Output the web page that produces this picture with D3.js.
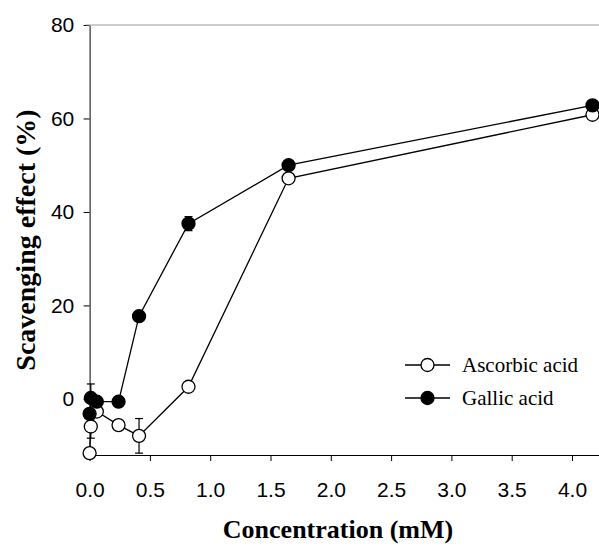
<!DOCTYPE html>
<html>
<head>
<meta charset="utf-8">
<script src="https://cdn.jsdelivr.net/npm/d3@7"></script>
<style>
  body { margin: 0; background: #fff; }
  svg { display: block; }
</style>
</head>
<body>
<div class="chart"></div>
<script>
// concentration (mM)
const conc = [0.0, 0.01, 0.06, 0.24, 0.41, 0.82, 1.65, 4.17];
const ascorbic = [-11.6, -5.9, -2.7, -5.6, -7.9, 2.6, 47.2, 60.8];
const ascorbicErr = [0, 2.5, 0, 1, 3.7, 1, 1, 1];
const gallic = [-3.2, 0.2, -0.6, -0.6, 17.7, 37.5, 50.0, 62.8];
const gallicErr = [0, 3, 0, 0.5, 1, 1.5, 1, 0.8];
const xTicks = [0, 0.5, 1, 1.5, 2, 2.5, 3, 3.5, 4];
const yTicks = [0, 20, 40, 60, 80];
const seriesNames = ['Ascorbic acid', 'Gallic acid'];

const W = 599, H = 546;
const svg = d3.select('.chart').append('svg')
    .attr('width', W)
    .attr('height', H);

const x = d3.scaleLinear().domain([0, 4]).range([89.6, 572]);
const y = d3.scaleLinear().domain([-12, 80]).range([455, 25]);

// axes
svg.append('g')
    .attr('transform', `translate(0,${y(-12)})`)
    .call(d3.axisBottom(x).tickValues(xTicks).tickFormat(d3.format('.1f')).tickSize(6).tickSizeOuter(0))
    .call(g => g.select('.domain').attr('d', `M${x(0)},0.5H${W}`))
    .call(g => g.selectAll('text').attr('dy', '1.55em'));

svg.append('g')
    .attr('transform', `translate(${x(0)},0)`)
    .call(d3.axisLeft(y).tickValues(yTicks).tickSize(6).tickSizeOuter(0))
    .call(g => g.selectAll('text').attr('dx', '-0.3em'));

// top frame line
svg.append('line')
    .attr('x1', x(0) - 4).attr('x2', W)
    .attr('y1', y(80)).attr('y2', y(80))
    .attr('stroke', '#999').attr('stroke-width', 1);

svg.selectAll('.tick text')
    .attr('font-family', 'Liberation Sans, Arial, sans-serif')
    .attr('font-size', 21)
    .attr('fill', '#000');
svg.selectAll('.tick line, .domain').attr('stroke', '#000');

// axis titles
svg.append('text')
    .attr('x', 338).attr('y', 538)
    .attr('text-anchor', 'middle')
    .attr('font-family', 'Liberation Serif, Times New Roman, serif')
    .attr('font-weight', 'bold')
    .attr('font-size', 26)
    .text('Concentration (mM)');

svg.append('text')
    .attr('transform', 'translate(35,240) rotate(-90)')
    .attr('text-anchor', 'middle')
    .attr('font-family', 'Liberation Serif, Times New Roman, serif')
    .attr('font-weight', 'bold')
    .attr('font-size', 28)
    .text('Scavenging effect (%)');

const line = d3.line().x(d => x(d.c)).y(d => y(d.v));

const series = [
    { name: seriesNames[0], values: ascorbic, err: ascorbicErr, fill: '#fff' },
    { name: seriesNames[1], values: gallic, err: gallicErr, fill: '#000' }
];

series.forEach(s => {
    const pts = conc.map((c, i) => ({ c, v: s.values[i], e: s.err[i] }));
    const g = svg.append('g');
    g.append('path')
        .datum(pts)
        .attr('d', line)
        .attr('fill', 'none')
        .attr('stroke', '#000')
        .attr('stroke-width', 1.3);
    const eb = g.selectAll('.err')
        .data(pts.filter(d => d.e > 0))
        .join('g');
    eb.append('line')
        .attr('x1', d => x(d.c)).attr('x2', d => x(d.c))
        .attr('y1', d => y(d.v - d.e)).attr('y2', d => y(d.v + d.e))
        .attr('stroke', '#000').attr('stroke-width', 1.2);
    [-1, 1].forEach(k => {
        eb.append('line')
            .attr('x1', d => x(d.c) - 4).attr('x2', d => x(d.c) + 4)
            .attr('y1', d => y(d.v + k * d.e)).attr('y2', d => y(d.v + k * d.e))
            .attr('stroke', '#000').attr('stroke-width', 1.2);
    });
    g.selectAll('circle')
        .data(pts)
        .join('circle')
        .attr('cx', d => x(d.c))
        .attr('cy', d => y(d.v))
        .attr('r', 6.5)
        .attr('fill', s.fill)
        .attr('stroke', '#000')
        .attr('stroke-width', 1.3);
});

// legend
const legend = svg.append('g').attr('transform', 'translate(405,365)');
series.forEach((s, i) => {
    const row = legend.append('g').attr('transform', `translate(0,${i * 33})`);
    row.append('line').attr('x1', 0).attr('x2', 45).attr('stroke', '#000').attr('stroke-width', 1.3);
    row.append('circle').attr('cx', 22.5).attr('r', 6.5)
        .attr('fill', s.fill).attr('stroke', '#000').attr('stroke-width', 1.3);
    row.append('text')
        .attr('x', 57).attr('dy', '0.35em')
        .attr('font-family', 'Liberation Serif, Times New Roman, serif')
        .attr('font-size', 21)
        .text(s.name);
});
</script>
</body>
</html>
